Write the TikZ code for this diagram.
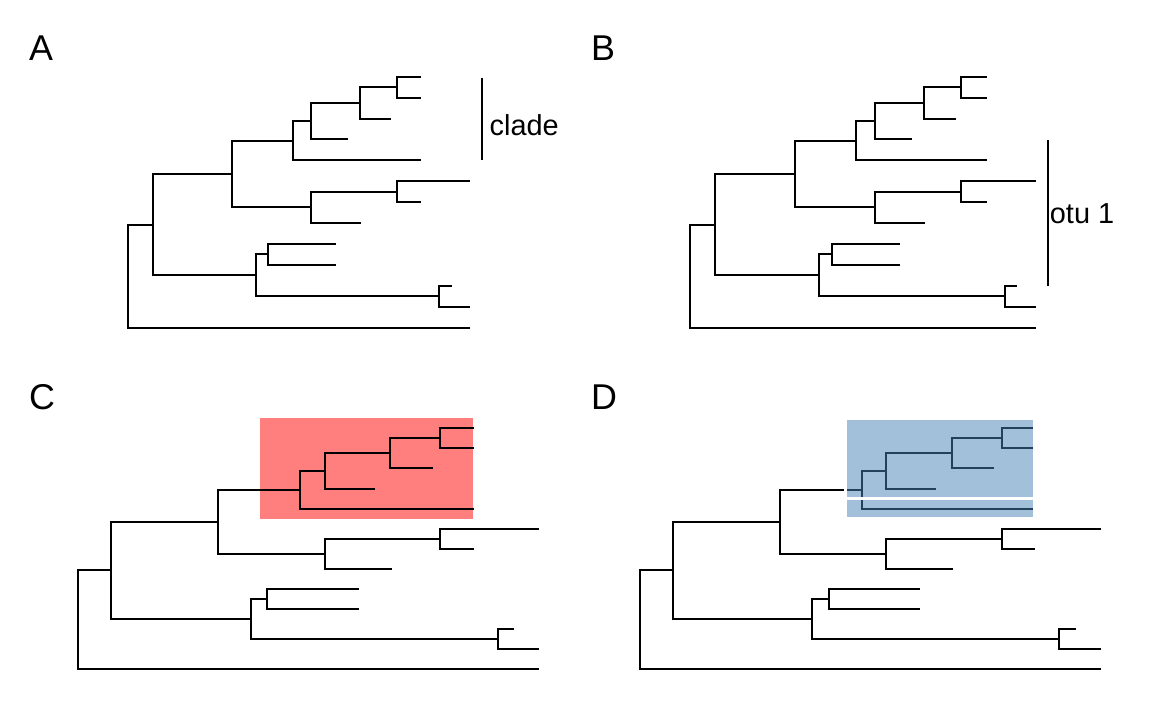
\documentclass[tikz,border=0pt]{standalone}
\usepackage{fontspec}
\setmainfont{Liberation Sans}
\definecolor{cladered}{HTML}{FF7F7F}
\definecolor{steel}{RGB}{70,130,180}
\tikzset{
  branch/.style={line width=2.5bp, black},
  barline/.style={line width=2.5bp, black},
  panellab/.style={anchor=base west, inner sep=0pt, font=\fontsize{36}{36}\selectfont},
  cladelab/.style={anchor=base west, inner sep=0pt, font=\fontsize{29}{29}\selectfont},
  bluebox/.style={fill=steel, fill opacity=0.5, draw=white, line width=2.5bp}
}
% #1 name, #2 x0, #3 x scale, #4 depth, #5 y
\newcommand{\tc}[5]{\coordinate (#1) at ({round(#2+#3*#4)},{round(#5)});}
\newcommand{\treecoords}[5]{%
  \tc{#1t1}{#2}{#3}{0.858}{#4+0*#5}
  \tc{#1t2}{#2}{#3}{0.858}{#4+1*#5}
  \tc{#1t3}{#2}{#3}{0.769}{#4+2*#5}
  \tc{#1t4}{#2}{#3}{0.643}{#4+3*#5}
  \tc{#1t5}{#2}{#3}{0.858}{#4+4*#5}
  \tc{#1t6}{#2}{#3}{1.000}{#4+5*#5}
  \tc{#1t7}{#2}{#3}{0.858}{#4+6*#5}
  \tc{#1t8}{#2}{#3}{0.680}{#4+7*#5}
  \tc{#1t9}{#2}{#3}{0.608}{#4+8*#5}
  \tc{#1t10}{#2}{#3}{0.608}{#4+9*#5}
  \tc{#1t11}{#2}{#3}{0.946}{#4+10*#5}
  \tc{#1t12}{#2}{#3}{1.000}{#4+11*#5}
  \tc{#1t13}{#2}{#3}{1.000}{#4+12*#5}
  \tc{#1n6}{#2}{#3}{0.785}{#4+0.5*#5}
  \tc{#1n5}{#2}{#3}{0.677}{#4+1.25*#5}
  \tc{#1n4}{#2}{#3}{0.535}{#4+2.125*#5}
  \tc{#1n3}{#2}{#3}{0.481}{#4+3.0625*#5}
  \tc{#1n8}{#2}{#3}{0.785}{#4+5.5*#5}
  \tc{#1n7}{#2}{#3}{0.535}{#4+6.25*#5}
  \tc{#1n2}{#2}{#3}{0.303}{#4+4.65625*#5}
  \tc{#1n10}{#2}{#3}{0.410}{#4+8.5*#5}
  \tc{#1n11}{#2}{#3}{0.910}{#4+10.5*#5}
  \tc{#1n9}{#2}{#3}{0.374}{#4+9.5*#5}
  \tc{#1n1}{#2}{#3}{0.071}{#4+7.078125*#5}
  \tc{#1root}{#2}{#3}{0}{#4+9.5390625*#5}
}
\newcommand{\treebranches}[1]{%
  \draw[branch] (#1root) |- (#1n1);
  \draw[branch] (#1root) |- (#1t13);
  \draw[branch] (#1n1) |- (#1n2);
  \draw[branch] (#1n1) |- (#1n9);
  \draw[branch] (#1n2) |- (#1n3);
  \draw[branch] (#1n2) |- (#1n7);
  \draw[branch] (#1n3) |- (#1n4);
  \draw[branch] (#1n3) |- (#1t5);
  \draw[branch] (#1n4) |- (#1n5);
  \draw[branch] (#1n4) |- (#1t4);
  \draw[branch] (#1n5) |- (#1n6);
  \draw[branch] (#1n5) |- (#1t3);
  \draw[branch] (#1n6) |- (#1t1);
  \draw[branch] (#1n6) |- (#1t2);
  \draw[branch] (#1n7) |- (#1n8);
  \draw[branch] (#1n7) |- (#1t8);
  \draw[branch] (#1n8) |- (#1t6);
  \draw[branch] (#1n8) |- (#1t7);
  \draw[branch] (#1n9) |- (#1n10);
  \draw[branch] (#1n9) |- (#1n11);
  \draw[branch] (#1n10) |- (#1t9);
  \draw[branch] (#1n10) |- (#1t10);
  \draw[branch] (#1n11) |- (#1t11);
  \draw[branch] (#1n11) |- (#1t12);
}
\begin{document}
\begin{tikzpicture}[x=1bp,y=-1bp]
\useasboundingbox (0,0) rectangle (1152,711);
% panel labels
\node[panellab] (labA) at (29,60.7) {A};
\node[panellab] (labB) at (591,60.7) {B};
\node[panellab] (labC) at (29,409.3) {C};
\node[panellab] (labD) at (591,409.3) {D};
% Panel A
\treecoords{A}{128.3}{341.7}{76.7}{20.917}
\treebranches{A}
\coordinate (Abar1) at (482,78);
\coordinate (Abar2) at (482,160.5);
\draw[barline] (Abar1) -- (Abar2);
\node[cladelab] (Aclade) at (489.5,136) {clade};
% Panel B
\treecoords{B}{690}{345.7}{76.7}{20.917}
\treebranches{B}
\coordinate (Bbar1) at (1048,140.5);
\coordinate (Bbar2) at (1048,286.3);
\draw[barline] (Bbar1) -- (Bbar2);
\node[cladelab] (Botu) at (1049.7,223.3) {otu 1};
% Panel C
\fill[cladered] (260,417.7) rectangle (473.3,518.7);
\treecoords{C}{78.3}{461}{428.3}{20.083}
\treebranches{C}
% Panel D
\treecoords{D}{640}{460.7}{428.3}{20.083}
\treebranches{D}
\path[bluebox] (845.3,418.3) rectangle (1034,498.5);
\path[bluebox] (845.3,498.5) rectangle (1034,518.3);
\end{tikzpicture}
\end{document}
